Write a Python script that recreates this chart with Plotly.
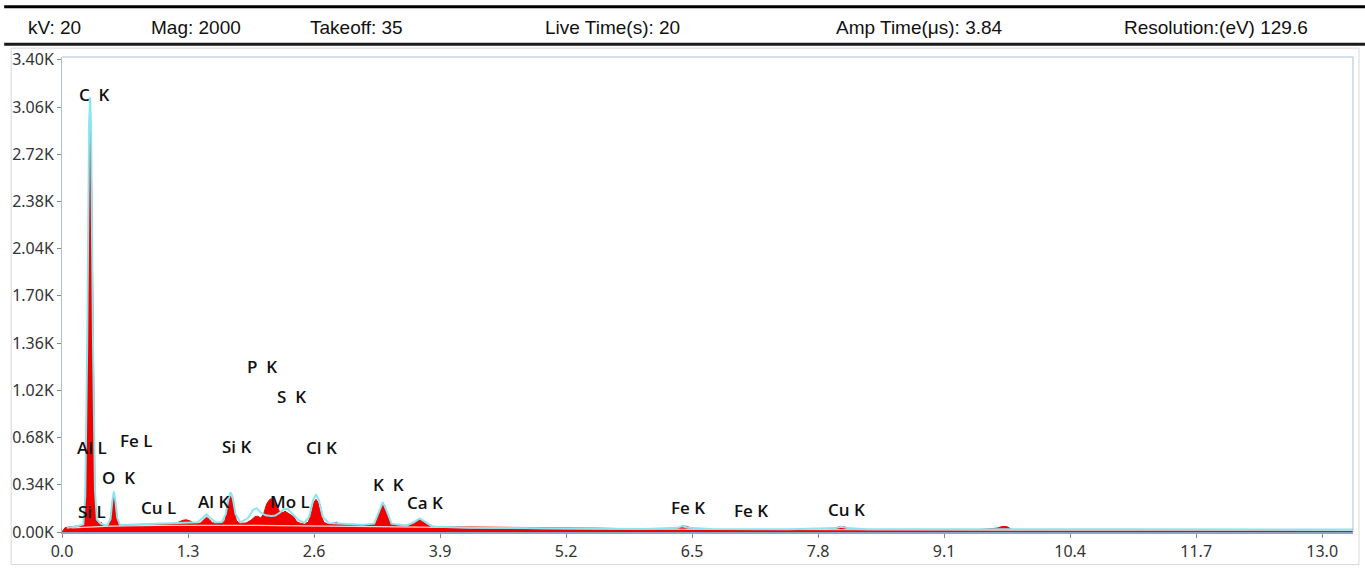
import plotly.graph_objects as go

# ---------------- data ----------------
energy_red = [0.00, 0.03, 0.08, 0.13, 0.18, 0.20, 0.22, 0.24, 0.25, 0.26, 0.27, 0.28, 0.29, 0.30,
              0.31, 0.32, 0.33, 0.34, 0.36, 0.38, 0.40, 0.42, 0.45, 0.48, 0.49, 0.51, 0.525, 0.535,
              0.545, 0.56, 0.58, 0.60, 0.65, 0.70, 0.75, 0.80, 0.85, 0.90, 0.95, 1.00, 1.05, 1.10,
              1.15, 1.20, 1.25, 1.28, 1.32, 1.36, 1.40, 1.43, 1.46, 1.49, 1.52, 1.55, 1.60, 1.65,
              1.68, 1.70, 1.72, 1.74, 1.76, 1.78, 1.80, 1.84, 1.90, 1.95, 1.99, 2.02, 2.05, 2.08,
              2.11, 2.14, 2.16, 2.18, 2.21, 2.24, 2.28, 2.30, 2.33, 2.36, 2.39, 2.42, 2.46, 2.50,
              2.54, 2.57, 2.60, 2.62, 2.64, 2.67, 2.70, 2.74, 2.80, 2.83, 2.86, 2.95, 3.05, 3.15,
              3.22, 3.24, 3.27, 3.30, 3.31, 3.33, 3.36, 3.39, 3.45, 3.52, 3.58, 3.62, 3.66, 3.69,
              3.72, 3.76, 3.80, 3.90, 4.10, 4.30, 4.50, 4.70, 4.90, 5.10, 5.30, 5.50, 5.80, 6.10,
              6.30, 6.35, 6.40, 6.45, 6.50, 6.70, 7.00, 7.30, 7.60, 7.90, 7.98, 8.03, 8.08, 8.13,
              8.40, 8.60, 8.70, 9.00, 9.40, 9.65, 9.70, 9.75, 9.80, 10.20, 10.80, 11.30, 11.50,
              11.70, 12.20, 12.80, 13.32]
counts_red = [0, 30, 38, 42, 45, 45, 60, 230, 600, 1250, 2100, 2850, 3080, 2850,
              2100, 1250, 600, 260, 90, 55, 72, 55, 42, 45, 60, 140, 230, 256,
              230, 140, 60, 48, 48, 50, 52, 55, 54, 58, 56, 58, 60, 58,
              62, 70, 85, 88, 80, 65, 60, 65, 90, 107, 90, 66, 62, 64,
              80, 140, 220, 256, 220, 140, 80, 62, 65, 85, 110, 114, 100, 130,
              200, 232, 240, 235, 200, 150, 140, 150, 135, 125, 110, 75, 62, 60,
              70, 130, 215, 235, 215, 130, 70, 58, 62, 70, 58, 55, 52, 50,
              52, 70, 140, 200, 206, 190, 120, 60, 48, 46, 48, 60, 80, 88,
              80, 55, 42, 38, 36, 34, 33, 35, 31, 30, 29, 28, 24, 20,
              18, 28, 43, 40, 24, 15, 15, 14, 14, 15, 30, 40, 36, 18,
              14, 18, 14, 14, 14, 28, 40, 38, 16, 13, 13, 13, 15,
              13, 12, 12, 12]

energy_cyan = [0.05, 0.15, 0.22, 0.24, 0.26, 0.28, 0.29, 0.30, 0.32, 0.34, 0.36, 0.40, 0.46,
               0.50, 0.52, 0.535, 0.55, 0.57, 0.60, 0.80, 1.00, 1.20, 1.30, 1.40, 1.45, 1.49,
               1.53, 1.58, 1.65, 1.69, 1.72, 1.74, 1.76, 1.79, 1.84, 1.92, 1.97, 2.01, 2.05,
               2.10, 2.16, 2.20, 2.25, 2.29, 2.33, 2.38, 2.44, 2.50, 2.55, 2.59, 2.62, 2.65,
               2.69, 2.75, 2.90, 3.10, 3.22, 3.27, 3.31, 3.35, 3.40, 3.55, 3.63, 3.69, 3.75,
               3.82, 4.20, 5.00, 6.00, 6.35, 6.40, 6.46, 6.70, 7.50, 7.98, 8.04, 8.10, 8.30,
               9.60, 9.72, 9.85, 11.00, 13.32]
counts_cyan = [30, 40, 55, 260, 1350, 2950, 3130, 2900, 1350, 300, 90, 60, 45,
               90, 230, 292, 230, 100, 50, 55, 58, 62, 68, 70, 100, 128,
               100, 70, 72, 130, 250, 285, 250, 130, 70, 100, 160, 170, 140,
               120, 116, 118, 140, 168, 165, 130, 85, 65, 110, 230, 270, 230,
               110, 65, 58, 52, 60, 150, 215, 150, 60, 45, 70, 98, 70,
               40, 30, 26, 22, 30, 42, 30, 21, 20, 28, 38, 28, 20,
               20, 24, 20, 19, 18]

energy_bg = [0.10, 0.50, 1.00, 2.00, 3.00, 4.00, 5.00, 6.00, 8.00, 10.00, 13.32]
counts_bg = [30, 42, 48, 48, 40, 30, 25, 20, 16, 14, 12]

peak_labels = ["C\u00a0\u00a0K", "Al L", "Fe L", "O\u00a0\u00a0K", "Si L", "Cu L", "Al K", "Si K",
               "Cl K", "Mo L", "P\u00a0\u00a0K", "S\u00a0\u00a0K", "K\u00a0\u00a0K", "Ca K",
               "Fe K", "Fe K", "Cu K"]
label_energy = [0.334, 0.309, 0.771, 0.586, 0.314, 0.998, 1.563, 1.810,
                2.674, 2.355, 2.067, 2.371, 3.373, 3.744, 6.459, 7.107, 8.094]
label_height = [3151, 612, 661, 391, 149, 178, 220, 619,
                605, 220, 1195, 974, 341, 213, 178, 156, 164]

x_tick_vals = [0.0, 1.3, 2.6, 3.9, 5.2, 6.5, 7.8, 9.1, 10.4, 11.7, 13.0]
x_tick_text = ["0.0", "1.3", "2.6", "3.9", "5.2", "6.5", "7.8", "9.1", "10.4", "11.7", "13.0"]
y_tick_vals = [0, 340, 680, 1020, 1360, 1700, 2040, 2380, 2720, 3060, 3400]
y_tick_text = ["0.00K", "0.34K", "0.68K", "1.02K", "1.36K", "1.70K", "2.04K", "2.38K",
               "2.72K", "3.06K", "3.40K"]

header_items = ["kV: 20", "Mag: 2000", "Takeoff: 35", "Live Time(s): 20",
                "Amp Time(\u03bcs): 3.84", "Resolution:(eV) 129.6"]

# ---------------- layout geometry (pixels) ----------------
W, H = 1365, 574
L, R, T, B = 58, 12, 57, 36
PW = W - L - R
PH = H - T - B


def px_x(px):
    return (px - L) / PW


def px_y(py):
    return (H - B - py) / PH


fig = go.Figure()

fig.add_trace(go.Scatter(x=energy_red, y=counts_red, mode="lines", fill="tozeroy",
                         line=dict(color="#ee0000", width=1), fillcolor="#f20000",
                         hoverinfo="skip", showlegend=False))
fig.add_trace(go.Scatter(x=energy_bg, y=counts_bg, mode="lines",
                         line=dict(color="rgba(255,235,235,0.9)", width=1.2),
                         hoverinfo="skip", showlegend=False))
fig.add_trace(go.Scatter(x=energy_cyan, y=counts_cyan, mode="lines",
                         line=dict(color="#8ae6ee", width=2),
                         hoverinfo="skip", showlegend=False))

annotations = []
for t, ex, cy in zip(peak_labels, label_energy, label_height):
    annotations.append(dict(x=ex, y=cy, xref="x", yref="y", text=t, showarrow=False,
                            xanchor="center", yanchor="middle",
                            font=dict(family="Open Sans", size=17, color="#111", weight=600)))

header_centers = [50, 192, 353, 610, 918, 1216]
for t, cx in zip(header_items, header_centers):
    annotations.append(dict(x=px_x(cx), y=px_y(27), xref="paper", yref="paper", text=t,
                            showarrow=False, xanchor="center", yanchor="middle",
                            font=dict(family="Liberation Sans", size=19, color="#111")))

shapes = [
    # top black rule
    dict(type="line", xref="paper", yref="paper", x0=px_x(0), x1=px_x(W), y0=px_y(6), y1=px_y(6),
         line=dict(color="#000", width=3)),
    # header bottom rule
    dict(type="line", xref="paper", yref="paper", x0=px_x(0), x1=px_x(W), y0=px_y(44), y1=px_y(44),
         line=dict(color="#1a1a1a", width=3)),
    # outer light frame
    dict(type="rect", xref="paper", yref="paper", x0=px_x(7), x1=px_x(1359), y0=px_y(571), y1=px_y(48),
         line=dict(color="#d4d8dc", width=1), layer="below"),
]

fig.update_layout(
    width=W, height=H, autosize=False,
    margin=dict(l=L, r=R, t=T, b=B, pad=0),
    paper_bgcolor="white", plot_bgcolor="white",
    annotations=annotations, shapes=shapes,
    xaxis=dict(range=[0, 13.318], tickvals=x_tick_vals, ticktext=x_tick_text,
               showgrid=False, zeroline=False, ticks="outside", ticklen=4, tickcolor="#888",
               showline=True, linecolor="#8aa6c4", linewidth=2, mirror=False,
               tickfont=dict(family="Noto Sans", size=16, color="#333")),
    yaxis=dict(range=[0, 3420], tickvals=y_tick_vals, ticktext=y_tick_text,
               showgrid=False, zeroline=False, ticks="outside", ticklen=4, tickcolor="#888",
               showline=True, linecolor="#a9c0d4", linewidth=1, mirror=False,
               tickfont=dict(family="Noto Sans", size=16, color="#333")),
)

# right and top frame of plot area
fig.add_shape(type="line", xref="paper", yref="paper", x0=0, x1=1, y0=1, y1=1,
              line=dict(color="#a9c0d4", width=1))
fig.add_shape(type="line", xref="paper", yref="paper", x0=1, x1=1, y0=0, y1=1,
              line=dict(color="#a9c0d4", width=1))

fig.write_html("out.html")
